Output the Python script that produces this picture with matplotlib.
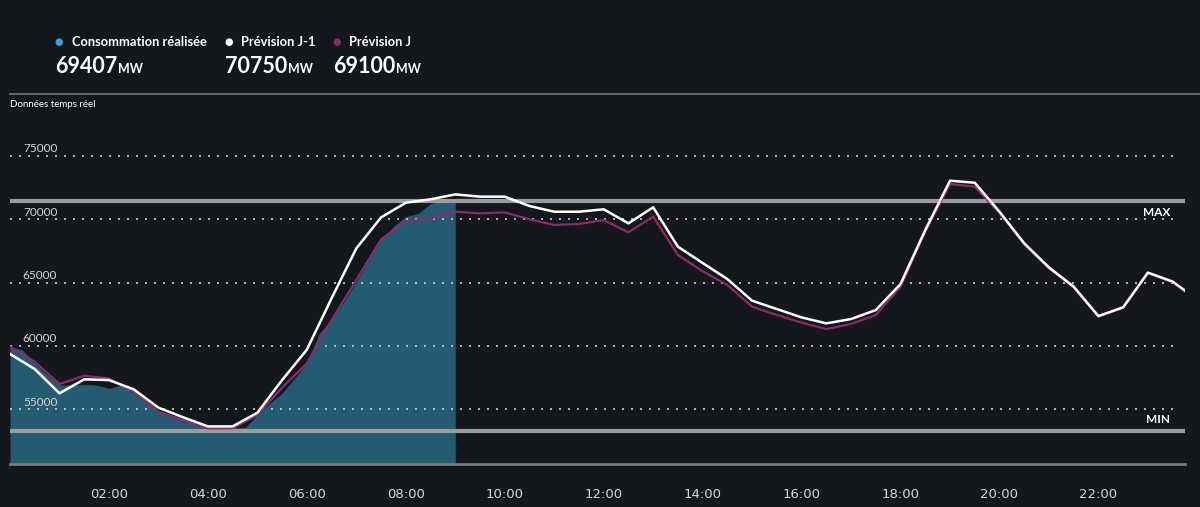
import numpy as np
import matplotlib.pyplot as plt
import matplotlib as mpl

#======#
# data #
#======#
# Prévision J-1 and Prévision J, every 30 min
hours_fc = np.arange(0, 24.5, 0.5)
prev_j1 = [59360, 58170, 56250, 57360, 57300, 56570, 55120, 54360, 53640, 53640,
           54720, 57300, 59700, 63760, 67700, 70150, 71310, 71580, 71970, 71790,
           71790, 71050, 70600, 70600, 70790, 69680, 70950, 67840, 66550, 65280,
           63570, 62910, 62250, 61780, 62120, 62830, 64890, 69150, 73050, 72890,
           70600, 68100, 66200, 64680, 62360, 63050, 65790, 65080, 63650]
prev_j = [59930, 58750, 56990, 57640, 57430, 56380, 54800, 54140, 53490, 53490,
          54540, 56700, 58620, 62040, 65200, 68420, 69810, 70070, 70600, 70470,
          70550, 70000, 69550, 69630, 69940, 68970, 70210, 67180, 65900, 64810,
          63100, 62440, 61840, 61330, 61730, 62440, 64680, 69020, 72790, 72580,
          70520, 68050, 66120, 64620, 62300, 63000, 65740, 65030, 63600]

# Consommation réalisée, every 15 min until 09:00
hours_conso = np.arange(0, 9.25, 0.25)
conso = [59930, 59670, 58620, 57700, 56910, 56910, 56950, 56900, 56650, 56900,
         56300, 55590, 54800, 54490, 54140, 53800, 53540, 53500, 53520, 53540,
         54540, 55460, 56250, 57430, 58620, 60990, 62040, 63490, 65070, 66780,
         68420, 69420, 70210, 70470, 71250, 71400, 71450]

val_max = 71470
val_min = 53280

y_ticks = [55000, 60000, 65000, 70000, 75000]
x_ticks = [2, 4, 6, 8, 10, 12, 14, 16, 18, 20, 22]
x_labels = ["%02d:00" % h for h in x_ticks]

legend_names = ["Consommation réalisée", "Prévision J-1", "Prévision J"]
legend_values = ["69407", "70750", "69100"]

#==============#
# plot options #
#==============#
bg = '#14171b'
c_fill = '#245a72'
c_blue = '#3f9fd8'
c_white = '#ffffff'
c_purple = '#8b2c69'
c_limit = '#9c9c9c'
c_text = '#d8d8d8'

mpl.rcParams['font.family'] = ['Lato', 'DejaVu Sans']

fig = plt.figure(figsize=(12, 5.07), dpi=100, facecolor=bg)
ax = fig.add_axes([10/1200, 43/507, 1175/1200, (464-130.7)/507])
ax.set_facecolor(bg)
ax.set_xlim(0, 23.75)
ax.set_ylim(50670, 77000)

for s in ['top', 'right', 'left']:
    ax.spines[s].set_visible(False)
ax.spines['bottom'].set_color('#7a7a7a')
ax.spines['bottom'].set_linewidth(2)

# dotted grid with labels inside
for v in y_ticks:
    ax.plot([0, 23.65], [v, v], ls=(0, (1.2, 4.2)), color='#d0d0d0', lw=1.2, zorder=3)
    ax.text(0.26, v + 130, str(v), color=c_text, fontsize=8.5,
            ha='left', va='bottom', zorder=4)

ax.fill_between(hours_conso, conso, 50670, color=c_fill, lw=0, zorder=1)

ax.plot(hours_fc, prev_j, color=c_purple, lw=1.6, zorder=5)
ax.plot(hours_fc, prev_j1, color=c_white, lw=1.8, zorder=6)

ax.axhline(val_max, color=c_limit, lw=3, zorder=2)
ax.axhline(val_min, color=c_limit, lw=3, zorder=2)
ax.text(23.45, val_max - 500, "MAX", color='white', fontsize=8.5,
        fontweight='bold', ha='right', va='top', zorder=7)
ax.text(23.45, val_min + 450, "MIN", color='white', fontsize=8.5,
        fontweight='bold', ha='right', va='bottom', zorder=7)

ax.set_yticks([])
ax.set_xticks(x_ticks)
ax.set_xticklabels(x_labels, color=c_text, fontsize=9.5,
                   family=['Liberation Sans Narrow', 'DejaVu Sans'])
ax.tick_params(axis='x', length=0, pad=17)

#========#
# header #
#========#
def fx(px):
    return px / 1200.

def fy(py):
    return 1 - py / 507.

dot_x = [58.3, 228.3, 336.7]
name_x = [71.7, 241, 349]
value_x = [55, 225.3, 333.3]
dot_colors = [c_blue, c_white, c_purple]

renderer = fig.canvas.get_renderer()
for i in range(3):
    fig.text(fx(dot_x[i]), fy(42), u"\u25CF", color=dot_colors[i], fontsize=7,
             ha='center', va='center', family='DejaVu Sans')
    fig.text(fx(name_x[i]), fy(42), legend_names[i], color='white', fontsize=9.3,
             fontweight='bold', ha='left', va='center')
    t = fig.text(fx(value_x[i]), fy(73.3), legend_values[i], color='white',
                 fontsize=15.5, fontweight='bold', ha='left', va='baseline')
    bb = t.get_window_extent(renderer)
    fig.text(bb.x1 / 1200. + 0.0005, fy(73.3), "MW", color='white', fontsize=9,
             fontweight='bold', ha='left', va='baseline')

fig.add_artist(plt.Line2D([fx(10), 1], [fy(94), fy(94)], color='#707070', lw=1.3))
fig.text(fx(10), fy(104.5), "Données temps réel", color='white', fontsize=7,
         ha='left', va='center')

fig.savefig("out.png", dpi=100, facecolor=bg)
